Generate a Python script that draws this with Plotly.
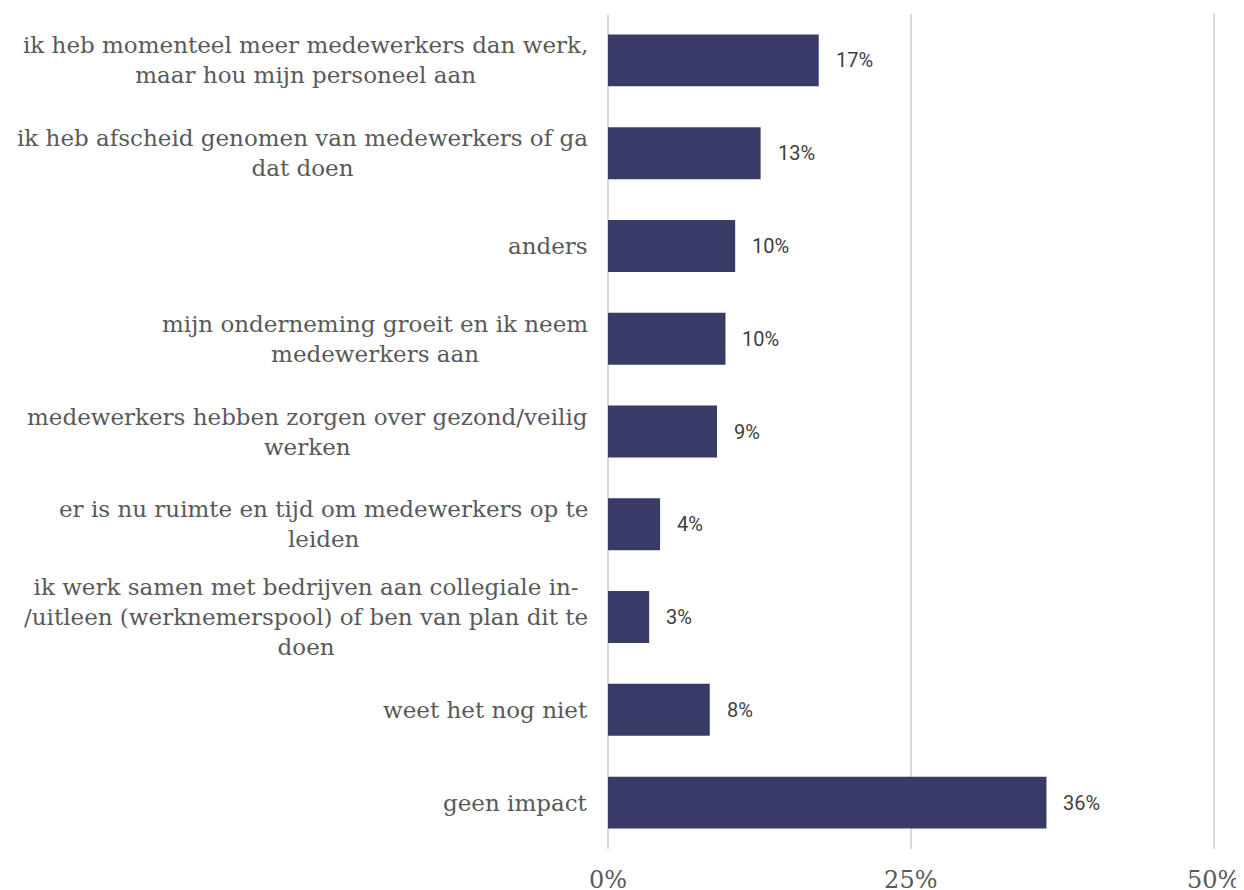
import plotly.graph_objects as go

categories = [
    "ik heb momenteel meer medewerkers dan werk,<br>maar hou mijn personeel aan",
    "ik heb afscheid genomen van medewerkers of ga<br>dat doen",
    "anders",
    "mijn onderneming groeit en ik neem<br>medewerkers aan",
    "medewerkers hebben zorgen over gezond/veilig<br>werken",
    "er is nu ruimte en tijd om medewerkers op te<br>leiden",
    "ik werk samen met bedrijven aan collegiale in-<br>/uitleen (werknemerspool) of ben van plan dit te<br>doen",
    "weet het nog niet",
    "geen impact",
]
values = [0.174, 0.126, 0.105, 0.097, 0.090, 0.043, 0.034, 0.084, 0.362]
tick_vals = [0, 0.25, 0.5]
tick_text = ["0%", "25%", "50%"]

BAR = "#383B65"
SERIF = "DejaVu Serif"

fig = go.Figure(go.Bar(
    x=values, y=categories, orientation="h",
    marker=dict(color=BAR, line=dict(width=0)),
    width=0.56, hoverinfo="skip",
))

annotations = []
for c in categories:
    annotations.append(dict(
        x=0, xref="paper", xshift=-18, y=c, yref="y",
        text=c, showarrow=False, xanchor="right", yanchor="middle",
        align="center", font=dict(family=SERIF, size=23, color="#595959"),
    ))
for c, v in zip(categories, values):
    annotations.append(dict(
        x=v, xref="x", y=c, yref="y", xshift=15,
        text=f"{v:.0%}", showarrow=False, xanchor="left", yanchor="middle",
        font=dict(family="Roboto", size=20, color="#404040"),
    ))

fig.update_layout(
    width=1236, height=882,
    margin=dict(l=600, r=28, t=6, b=41),
    paper_bgcolor="white", plot_bgcolor="white",
    showlegend=False,
    annotations=annotations,
    xaxis=dict(
        range=[0, 0.502], tickvals=tick_vals, ticktext=tick_text,
        showgrid=True, gridcolor="#d9d9d9", gridwidth=2,
        zeroline=True, zerolinecolor="#d9d9d9", zerolinewidth=2,
        showline=False, ticks="",
        tickfont=dict(family=SERIF, size=24, color="#595959"),
        ticklabelstandoff=14, automargin=False, fixedrange=True,
    ),
    yaxis=dict(
        autorange="reversed", showticklabels=False, showgrid=False,
        zeroline=False, showline=False, ticks="", automargin=False,
        fixedrange=True,
    ),
)

fig.write_html("out.html")
